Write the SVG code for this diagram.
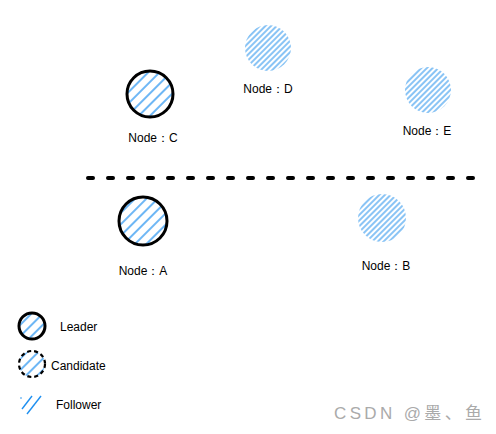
<svg xmlns="http://www.w3.org/2000/svg" width="496" height="434" viewBox="0 0 496 434">
<style>
.lbl{font-family:"Liberation Sans",Arial,sans-serif;font-size:12px;fill:#000}
.ldr{fill:url(#hLeader);stroke:#000;stroke-width:3}
.fol{fill:url(#hFollower);stroke:none}
.cand{fill:url(#hLeader);stroke:#000;stroke-width:2.2;stroke-dasharray:4 3}
.wm{font-family:"Liberation Sans","Noto Sans CJK SC",sans-serif;font-size:17px;fill:#aaa}
</style>
<defs>
<pattern id="hLeader" patternUnits="userSpaceOnUse" width="8" height="8" patternTransform="rotate(-45)">
<line x1="0" y1="4" x2="8" y2="4" stroke="#1e8ff0" stroke-width="1.3"/>
</pattern>
<pattern id="hFollower" patternUnits="userSpaceOnUse" width="4" height="4" patternTransform="rotate(-45)">
<line x1="0" y1="2" x2="4" y2="2" stroke="#62b0f2" stroke-width="1.5"/>
</pattern>
</defs>
<rect width="496" height="434" fill="#fff"/>
<g id="divider">
<line x1="88" y1="178" x2="478" y2="178" stroke="#000" stroke-width="4" stroke-linecap="round" stroke-dasharray="5 15"/>
</g>
<g id="nodeC">
<circle class="ldr" cx="150" cy="94" r="23"/>
<text class="lbl" x="153" y="142" text-anchor="middle">Node：C</text>
</g>
<g id="nodeD">
<circle class="fol" cx="268" cy="48" r="23"/>
<text class="lbl" x="268" y="93" text-anchor="middle">Node：D</text>
</g>
<g id="nodeE">
<circle class="fol" cx="428" cy="90" r="23"/>
<text class="lbl" x="427" y="135" text-anchor="middle">Node：E</text>
</g>
<g id="nodeA">
<circle class="ldr" cx="143" cy="221" r="24"/>
<text class="lbl" x="143" y="275" text-anchor="middle">Node：A</text>
</g>
<g id="nodeB">
<circle class="fol" cx="382" cy="218" r="24"/>
<text class="lbl" x="386" y="270" text-anchor="middle">Node：B</text>
</g>
<g id="legendLeader">
<circle class="ldr" cx="32" cy="326" r="13" stroke-width="2.5"/>
<text class="lbl" x="60" y="331">Leader</text>
</g>
<g id="legendCandidate">
<circle class="cand" cx="32" cy="364" r="13"/>
<text class="lbl" x="51" y="370">Candidate</text>
</g>
<g id="legendFollower">
<circle cx="21" cy="398" r="0.8" fill="#1e8ff0"/>
<line x1="22" y1="409" x2="32" y2="396" stroke="#1e8ff0" stroke-width="1.4"/>
<line x1="27" y1="414" x2="41" y2="396" stroke="#1e8ff0" stroke-width="1.4"/>
<text class="lbl" x="56" y="409">Follower</text>
</g>
<g id="watermark">
<text class="wm" x="334" y="419" textLength="148" lengthAdjust="spacing">CSDN @墨、鱼</text>
</g>
</svg>
